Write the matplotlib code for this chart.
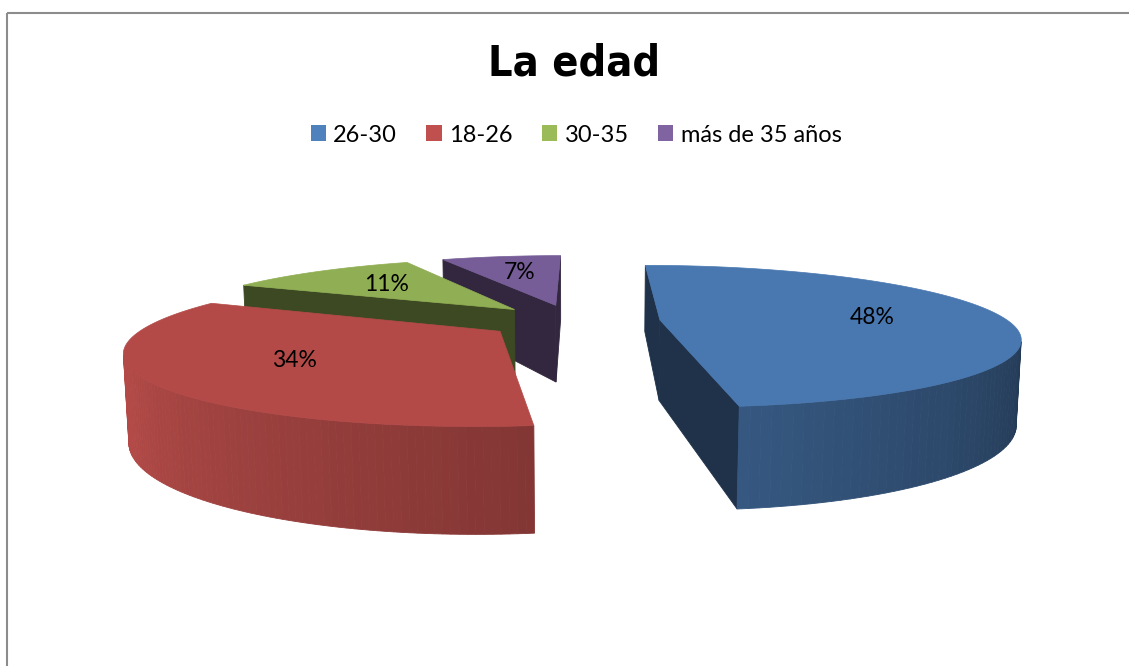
import numpy as np
import matplotlib
matplotlib.use('Agg')
import matplotlib.pyplot as plt
from matplotlib.patches import Polygon, Patch, Rectangle
from matplotlib import font_manager

# datos del grafico
categorias = ['26-30', '18-26', '30-35', 'más de 35 años']
valores = [48, 34, 11, 7]
colores = ['#4F81BD', '#C0504D', '#9BBB59', '#8064A2']
titulo = 'La edad'

# camara y perspectiva (radio del pastel = 1)
W, H = 1129, 666
F = 1480.0
D = 4.25
PHI = np.radians(11.2)
CX, CY = 582, 321
ALTO = 0.239
EXPLOTAR = 0.25
XP = -0.025
CAM = np.array([0.0, D * np.sin(PHI), -D * np.cos(PHI)])


def proyectar(x, y, z):
    x, y, z = np.broadcast_arrays(np.asarray(x, float), np.asarray(y, float), np.asarray(z, float))
    c, s = np.cos(PHI), np.sin(PHI)
    yc = y * c + z * s
    zc = -y * s + z * c
    sx = CX + F * x / (D + zc)
    sy = CY - F * yc / (D + zc)
    return np.column_stack([sx.ravel(), sy.ravel()])


def oscurecer(color, f):
    rgb = np.array(matplotlib.colors.to_rgb(color))
    return tuple(np.clip(rgb * f, 0, 1))


def visible(p, normal):
    return np.dot(CAM - p, normal) > 0


def brillo(theta):
    # lado curvo: mas claro a la izquierda, mas oscuro a la derecha
    return min(1.0, 0.42 + 0.58 * (theta - 90) / (245 - 90))


# fuente angosta y negrita para el titulo, si hay alguna
prop_titulo = font_manager.FontProperties(family='DejaVu Sans', weight='bold', size=31)
for f in font_manager.fontManager.ttflist:
    angosta = ('Narrow' in f.name or 'Condensed' in f.name or str(f.stretch) in ('condensed', 'semi-condensed'))
    negrita = f.weight in ('bold', 700, 'heavy', 800, 900)
    if angosta and negrita:
        prop_titulo = font_manager.FontProperties(fname=f.fname, size=31)
        print('titulo:', f.name, f.fname)
        break

fuentes = {f.name for f in font_manager.fontManager.ttflist}
fuente_texto = 'Lato' if 'Lato' in fuentes else 'DejaVu Sans'

fig = plt.figure(figsize=(W / 100, H / 100), dpi=100)
ax = fig.add_axes([0, 0, 1, 1])
ax.set_xlim(0, W)
ax.set_ylim(H, 0)
ax.axis('off')

total = sum(valores)
bordes = np.concatenate([[0], np.cumsum(valores)]) / total * 360

rebanadas = []
for i, v in enumerate(valores):
    a0, a1 = bordes[i], bordes[i + 1]
    mid = (a0 + a1) / 2
    cx = XP + EXPLOTAR * np.sin(np.radians(mid))
    cz = EXPLOTAR * np.cos(np.radians(mid))
    centro = np.array([cx + 0.5 * np.sin(np.radians(mid)), -ALTO / 2, cz + 0.5 * np.cos(np.radians(mid))])
    dist = np.linalg.norm(CAM - centro)
    rebanadas.append((dist, i, a0, a1, mid, cx, cz))

# de atras hacia adelante
rebanadas.sort(reverse=True)

for dist, i, a0, a1, mid, cx, cz in rebanadas:
    base = oscurecer(colores[i], 0.93)
    t = np.radians(np.linspace(a0, a1, 120))
    rx = cx + np.sin(t)
    rz = cz + np.cos(t)

    # caras de corte
    for ang, nang in ((a0, a0 - 90), (a1, a1 + 90)):
        r = np.radians(ang)
        n = np.array([np.sin(np.radians(nang)), 0, np.cos(np.radians(nang))])
        pm = np.array([cx + 0.5 * np.sin(r), -ALTO / 2, cz + 0.5 * np.cos(r)])
        if visible(pm, n):
            xs = [cx, cx + np.sin(r), cx + np.sin(r), cx]
            ys = [0, 0, -ALTO, -ALTO]
            zs = [cz, cz + np.cos(r), cz + np.cos(r), cz]
            col = oscurecer(base, 0.42)
            ax.add_patch(Polygon(proyectar(xs, ys, zs), closed=True, fc=col, ec=col, lw=0.6))

    # lado curvo
    for k in range(len(t) - 1):
        tm = (t[k] + t[k + 1]) / 2
        n = np.array([np.sin(tm), 0, np.cos(tm)])
        pm = np.array([cx + np.sin(tm), -ALTO / 2, cz + np.cos(tm)])
        if not visible(pm, n):
            continue
        xs = [rx[k], rx[k + 1], rx[k + 1], rx[k]]
        ys = [0, 0, -ALTO, -ALTO]
        zs = [rz[k], rz[k + 1], rz[k + 1], rz[k]]
        col = oscurecer(base, brillo(np.degrees(tm) % 360))
        ax.add_patch(Polygon(proyectar(xs, ys, zs), closed=True, fc=col, ec=col, lw=0.6))

    # cara superior
    xs = np.concatenate([[cx], rx])
    zs = np.concatenate([[cz], rz])
    ax.add_patch(Polygon(proyectar(xs, 0, zs), closed=True, fc=base, ec=base, lw=0.5))

    # etiqueta de porcentaje
    r = np.radians(mid)
    pt = proyectar(cx + 0.62 * np.sin(r), 0, cz + 0.62 * np.cos(r))[0]
    ax.text(pt[0], pt[1], f'{valores[i] / total * 100:.0f}%', ha='center', va='center',
            fontsize=16.5, family=fuente_texto, color='black')

# titulo
ax.text(574, 64, titulo, ha='center', va='center', fontproperties=prop_titulo, color='black')

# leyenda
handles = [Patch(facecolor=c, edgecolor='none') for c in colores]
fig.legend(handles, categorias, loc='center', bbox_to_anchor=(576 / W, 1 - 135 / H), ncol=4,
           frameon=False, handlelength=0.65, handleheight=0.65, handletextpad=0.3,
           columnspacing=1.25, prop={'family': fuente_texto, 'size': 17})

# marco del grafico
ax.add_patch(Rectangle((6.5, 12.5), 1400, 900, fill=False, ec='#8c8c8c', lw=1.5))

fig.savefig('out.png', dpi=100)
